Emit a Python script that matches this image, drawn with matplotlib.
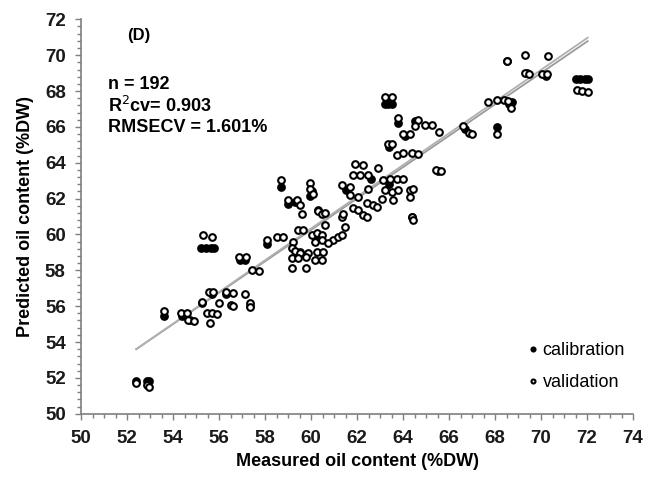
import numpy as np
import matplotlib
matplotlib.use("Agg")
import matplotlib.pyplot as plt
from matplotlib.ticker import MultipleLocator

plt.rcParams['font.family'] = ['Liberation Sans', 'DejaVu Sans']

# validation predictions (open circles): measured, predicted
val_x = [52.4, 52.85, 52.95, 53.6, 54.35, 54.6, 54.67, 54.9, 55.25, 55.46, 55.68, 55.9,
         55.6, 55.58, 55.75, 56.0, 56.3, 56.6, 56.5, 56.62, 57.13, 57.35, 57.35, 56.88,
         57.17, 57.42, 57.75, 55.32, 55.68, 58.07, 58.5, 58.77, 58.7, 59.0, 59.37, 59.52,
         59.6, 59.96, 59.96, 60.1, 60.32, 60.46, 60.61, 59.45, 59.67, 59.23, 59.16, 59.3,
         60.03, 60.25, 60.46, 60.17, 60.46, 59.52, 59.88, 60.25, 60.54, 59.16, 59.45, 59.8,
         60.17, 60.46, 59.16, 59.8, 60.97, 61.19, 61.33, 60.75, 61.48, 61.33, 61.4, 60.61,
         61.84, 62.06, 62.27, 62.42, 62.42, 62.71, 62.86, 61.33, 61.7, 62.49, 61.7, 62.06,
         61.91, 62.27, 62.9, 61.84, 62.13, 62.49, 63.14, 63.43, 63.72, 64.0, 63.22, 63.51,
         63.8, 63.07, 63.58, 64.3, 64.45, 64.3, 64.37, 64.45, 63.72, 64.0, 64.37, 64.67,
         63.36, 63.51, 64.0, 64.3, 64.67, 64.96, 65.25, 65.58, 64.52, 63.8, 63.22, 63.51,
         65.43, 65.64, 66.62, 66.88, 66.99, 68.07, 67.71, 68.07, 68.39, 68.58, 68.68, 68.54,
         69.3, 70.32, 69.3, 69.49, 70.03, 70.25, 71.55, 71.77, 72.03]
val_y = [51.7, 51.6, 51.5, 55.75, 55.63, 55.6, 55.2, 55.18, 56.24, 55.6, 55.6, 55.56,
         55.05, 56.8, 56.8, 56.2, 56.8, 56.72, 56.06, 56.0, 56.7, 56.15, 55.95, 58.75,
         58.72, 58.0, 57.97, 59.96, 59.88, 59.68, 59.87, 59.83, 63.05, 61.93, 61.91, 61.63,
         61.16, 62.88, 62.56, 62.28, 61.3, 61.16, 60.52, 60.26, 60.24, 59.59, 59.22, 59.1,
         59.96, 60.06, 59.96, 59.59, 59.68, 58.94, 58.94, 59.03, 59.03, 58.66, 58.66, 58.72,
         58.57, 58.57, 58.1, 58.1, 59.68, 59.87, 59.96, 59.5, 60.42, 60.98, 61.14, 61.17,
         61.45, 61.35, 61.08, 60.98, 61.73, 61.63, 61.54, 62.75, 62.65, 62.56, 62.19, 62.1,
         63.92, 63.86, 63.73, 63.3, 63.3, 63.3, 63.03, 63.12, 63.12, 63.1, 62.47, 62.38,
         62.47, 62.0, 61.91, 62.47, 62.56, 62.1, 61.0, 60.8, 64.42, 64.52, 64.52, 64.48,
         65.07, 65.07, 65.63, 65.63, 66.4, 66.09, 66.09, 65.72, 66.05, 66.48, 67.67, 67.67,
         63.58, 63.55, 66.04, 65.68, 65.63, 65.6, 67.39, 67.49, 67.49, 67.45, 67.08, 69.68,
         70.0, 69.94, 69.0, 68.95, 68.93, 68.97, 68.08, 68.0, 67.97]

# calibration predictions (filled dots)
cal_x = [52.4, 52.85, 52.95, 53.6, 54.4, 54.75, 55.25, 55.2, 55.45, 55.65, 55.8, 55.7,
         56.3, 57.35, 56.9, 57.15, 58.07, 58.7, 59.0, 59.3, 59.96, 60.05, 60.3, 59.5,
         60.2, 61.5, 62.6, 63.4, 63.2, 63.35, 63.5, 63.8, 63.4, 64.1, 64.4, 65.5, 68.07,
         68.6, 68.75, 68.54, 70.2, 64.5, 66.7, 69.4, 71.5, 71.7, 71.9, 72.05]
cal_y = [51.85, 51.85, 51.85, 55.45, 55.45, 55.2, 56.2, 59.25, 59.25, 59.25, 59.25, 56.65,
         56.7, 56.0, 58.55, 58.55, 59.46, 62.65, 61.69, 61.8, 62.15, 62.4, 61.35, 59.0,
         59.8, 62.5, 63.1, 62.8, 67.3, 67.3, 67.3, 66.2, 64.9, 65.5, 60.95, 63.55, 66.0,
         67.3, 67.4, 69.7, 68.85, 66.3, 65.9, 69.0, 68.69, 68.69, 68.69, 68.69]

# fitted lines (slope, intercept) for calibration and validation
fit_cal = (0.8755, 7.72)
fit_val = (0.885, 7.23)

stats_lines = ['n = 192', 'R$^2$cv= 0.903', 'RMSECV = 1.601%']

fig = plt.figure(figsize=(6.62, 4.78), dpi=100)
ax = fig.add_axes([0.1224, 0.1345, 0.8338, 0.8251])

xs = np.array([min(val_x), max(val_x)])
ax.plot(xs, fit_cal[0] * xs + fit_cal[1], color='#9a9a9a', lw=1.3, zorder=1)
ax.plot(xs, fit_val[0] * xs + fit_val[1], color='#b0b0b0', lw=1.3, zorder=1)

ax.plot(cal_x, cal_y, 'o', ms=4.8, mfc='black', mec='black', mew=1.5,
        ls='none', zorder=2, label='calibration')
ax.plot(val_x, val_y, 'o', ms=4.8, mfc='white', mec='black', mew=1.5,
        ls='none', zorder=3, label='validation')

ax.set_xlim(50, 74)
ax.set_ylim(50, 72)
ax.xaxis.set_major_locator(MultipleLocator(2))
ax.xaxis.set_minor_locator(MultipleLocator(0.5))
ax.yaxis.set_major_locator(MultipleLocator(2))
ax.yaxis.set_minor_locator(MultipleLocator(0.4))

for s in ['top', 'right']:
    ax.spines[s].set_visible(False)
for s in ['left', 'bottom']:
    ax.spines[s].set_color('#7f7f7f')
    ax.spines[s].set_linewidth(1.2)

ax.tick_params(which='both', direction='out', color='#7f7f7f', width=1.0,
               labelsize=13.5, labelcolor='#1a1a1a')
ax.tick_params(which='major', length=4)
ax.tick_params(which='minor', length=3)
ax.tick_params(axis='x', pad=8)
ax.tick_params(axis='y', pad=7)
for lab in ax.get_xticklabels() + ax.get_yticklabels():
    lab.set_fontweight('bold')

ax.set_xlabel('Measured oil content (%DW)', fontsize=13, fontweight='bold', labelpad=4)
ax.set_ylabel('Predicted oil content (%DW)', fontsize=13, fontweight='bold', labelpad=8)

ax.text(52.0, 71.1, '(D)', fontsize=12, fontweight='bold', ha='left', va='center')
for i, line in enumerate(stats_lines):
    ax.text(51.17, 68.35 - i * 1.2, line, fontsize=13, fontweight='bold',
            ha='left', va='center')

leg = ax.legend(loc='upper left', bbox_to_anchor=(0.80, 0.20), frameon=False,
                fontsize=13, markerscale=0.6, handlelength=0.3, handletextpad=0.4,
                labelspacing=0.83, borderaxespad=0)

fig.savefig('out.png', dpi=100)
